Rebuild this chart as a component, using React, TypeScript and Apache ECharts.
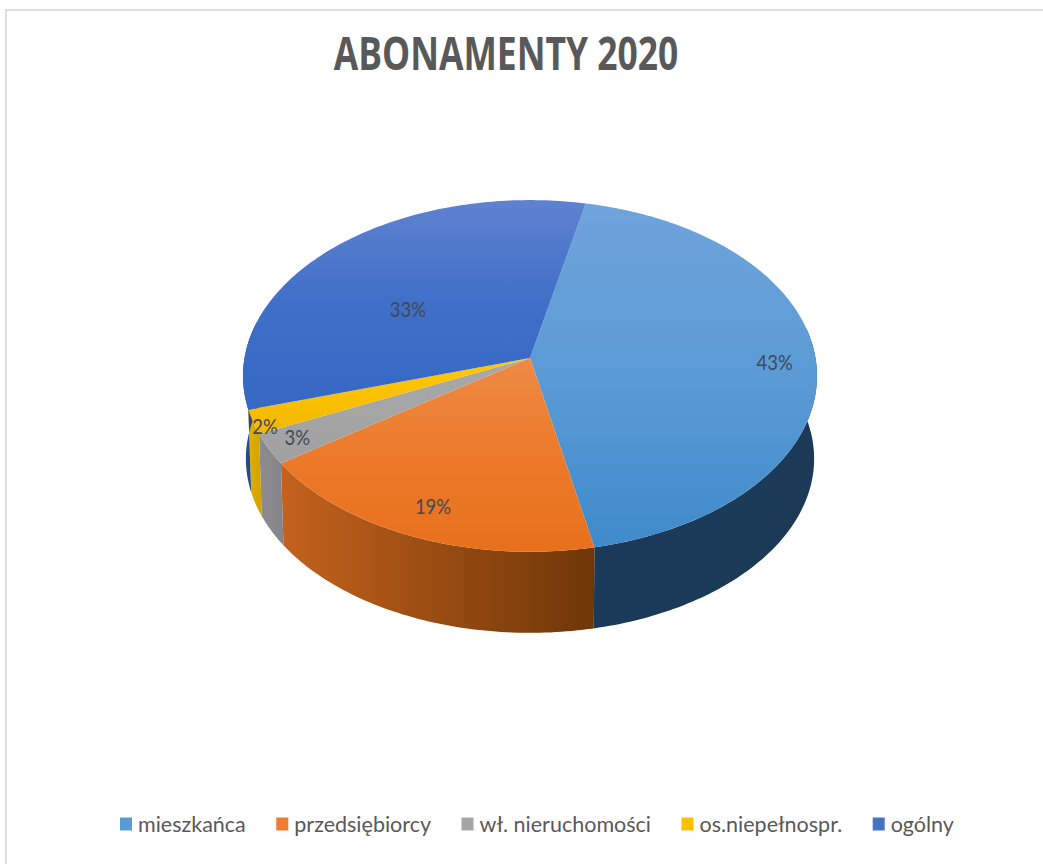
import React, { useEffect, useRef } from "react";
import * as echarts from "echarts";

const titleText = "ABONAMENTY 2020";
const categories = ["mieszkańca", "przedsiębiorcy", "wł. nieruchomości", "os.niepełnospr.", "ogólny"];
const shares = [43.3, 18.6, 2.8, 2.2, 33.1];

// styling, one entry per slice
const legendColors = ["#5b9bd5", "#ed7d31", "#a5a5a5", "#ffc000", "#4472c4"];
const topStops = [
  ["#6fa3dc", "#5b9bd5", "#3f8acb"],
  ["#ee8a45", "#ec7a2a", "#e8701c"],
  ["#a8a8a8", "#a5a5a5", "#a0a0a0"],
  ["#ffc800", "#fcc000", "#f2b600"],
  ["#5f82d0", "#3f6fc8", "#3568c4"],
];
const wallStops = [
  ["#1b3a5a", "#1c3a58"],
  ["#c4621d", "#6e3607"],
  ["#8c8c90", "#84848a"],
  ["#e2b100", "#d0a000"],
  ["#2c4f8c", "#21406f"],
];
const labelAngleShift = [1.15, 0.1, 0.8, -2.1, -9];
const labelRadius = [0.855, 0.84, 0.89, 0.968, 0.53];

// projection of the disc
const START_DEG = 12.4;
const APEX = { x: 530, y: 358 };
const PERSP = 0.102;
const HALF_W = 285.5;
const HALF_H = 174;
const FLOOR_SCALE = 0.99;
const DEPTH = 83;

const rad = (d: number) => (d * Math.PI) / 180;
const total = shares.reduce((a, b) => a + b, 0);
function sliceRange(i: number): [number, number] {
  let s = 0;
  for (let k = 0; k < i; k++) s += shares[k];
  return [START_DEG + (s / total) * 360, START_DEG + ((s + shares[i]) / total) * 360];
}
function project(deg: number, r = 1): [number, number] {
  const s = Math.sin(rad(deg)) * r;
  const c = Math.cos(rad(deg)) * r;
  const w = 1 + PERSP * c;
  return [(HALF_W * s) / w, (-HALF_H * c) / w];
}
function arc(a: number, b: number) {
  const pts: [number, number][] = [];
  const n = Math.max(2, Math.ceil(Math.abs(b - a)));
  for (let i = 0; i <= n; i++) {
    const [x, y] = project(a + ((b - a) * i) / n);
    pts.push([APEX.x + x, APEX.y + y]);
  }
  return pts;
}
function floorArc(a: number, b: number) {
  const pts: [number, number][] = [];
  const n = Math.max(2, Math.ceil(Math.abs(b - a)));
  for (let i = 0; i <= n; i++) {
    const [x, y] = project(a + ((b - a) * i) / n);
    pts.push([APEX.x + x * FLOOR_SCALE, APEX.y + y * FLOOR_SCALE + DEPTH]);
  }
  return pts;
}
const grad = (x2: number, y2: number, cols: string[]) =>
  new echarts.graphic.LinearGradient(
    0,
    0,
    x2,
    y2,
    cols.map((color, i) => ({ offset: i / (cols.length - 1), color }))
  );

function renderTop(i: number) {
  return () => {
    const [a, b] = sliceRange(i);
    return {
      type: "polygon",
      shape: { points: [[APEX.x, APEX.y], ...arc(a, b)] },
      style: { fill: grad(0, 1, topStops[i]) },
    };
  };
}
function renderWall(params: any) {
  const i = params.dataIndex;
  const [a0, b0] = sliceRange(i);
  const a = Math.max(a0, 80);
  const b = Math.min(b0, 282);
  if (b <= a) return null;
  return {
    type: "polygon",
    shape: { points: [...arc(a, b), ...floorArc(a, b).reverse()] },
    style: { fill: grad(1, 0, wallStops[i]) },
  };
}
function renderLabel(params: any, api: any) {
  const i = params.dataIndex;
  const [a, b] = sliceRange(i);
  const [x, y] = project((a + b) / 2 + labelAngleShift[i], labelRadius[i]);
  return {
    type: "text",
    x: APEX.x + x,
    y: APEX.y + y,
    scaleX: 0.88,
    style: {
      text: Math.round(api.value(0)) + "%",
      fill: "#404a58",
      font: "21px Lato",
      align: "center",
      verticalAlign: "middle",
    },
  };
}

export default function App() {
  const ref = useRef<HTMLDivElement>(null);
  useEffect(() => {
    document.body.style.margin = "0";
    const chart = echarts.init(ref.current!, undefined, { renderer: "svg" });
    chart.setOption({
      animation: false,
      backgroundColor: "#ffffff",
      legend: {
        data: categories,
        left: 120,
        top: 813,
        padding: 0,
        itemGap: 30.5,
        itemWidth: 12,
        itemHeight: 13,
        icon: "rect",
        textStyle: { color: "#595959", fontFamily: "Lato", fontSize: 21.5, padding: [0, 0, 0, 1] },
      },
      graphic: [
        {
          type: "rect",
          shape: { x: 6, y: 10, width: 1200, height: 1000 },
          style: { fill: "none", stroke: "#dedede", lineWidth: 2 },
          silent: true,
        },
        {
          type: "text",
          x: 506,
          y: 52,
          scaleX: 0.77,
          style: {
            text: titleText,
            fill: "#595959",
            font: "bold 46px 'Open Sans'",
            align: "center",
            verticalAlign: "middle",
          },
        },
      ],
      series: [
        {
          type: "custom",
          name: "bok",
          coordinateSystem: "none",
          z: 1,
          silent: true,
          data: shares,
          renderItem: renderWall,
        },
        ...categories.map((name, i) => ({
          type: "custom",
          name,
          coordinateSystem: "none",
          z: 2,
          itemStyle: { color: legendColors[i] },
          data: [shares[i]],
          renderItem: renderTop(i),
        })),
        {
          type: "custom",
          name: "etykiety",
          coordinateSystem: "none",
          z: 3,
          silent: true,
          data: shares,
          renderItem: renderLabel,
        },
      ],
    });
    return () => chart.dispose();
  }, []);
  return <div ref={ref} style={{ position: "absolute", left: 0, top: 0, width: 1043, height: 864 }} />;
}
